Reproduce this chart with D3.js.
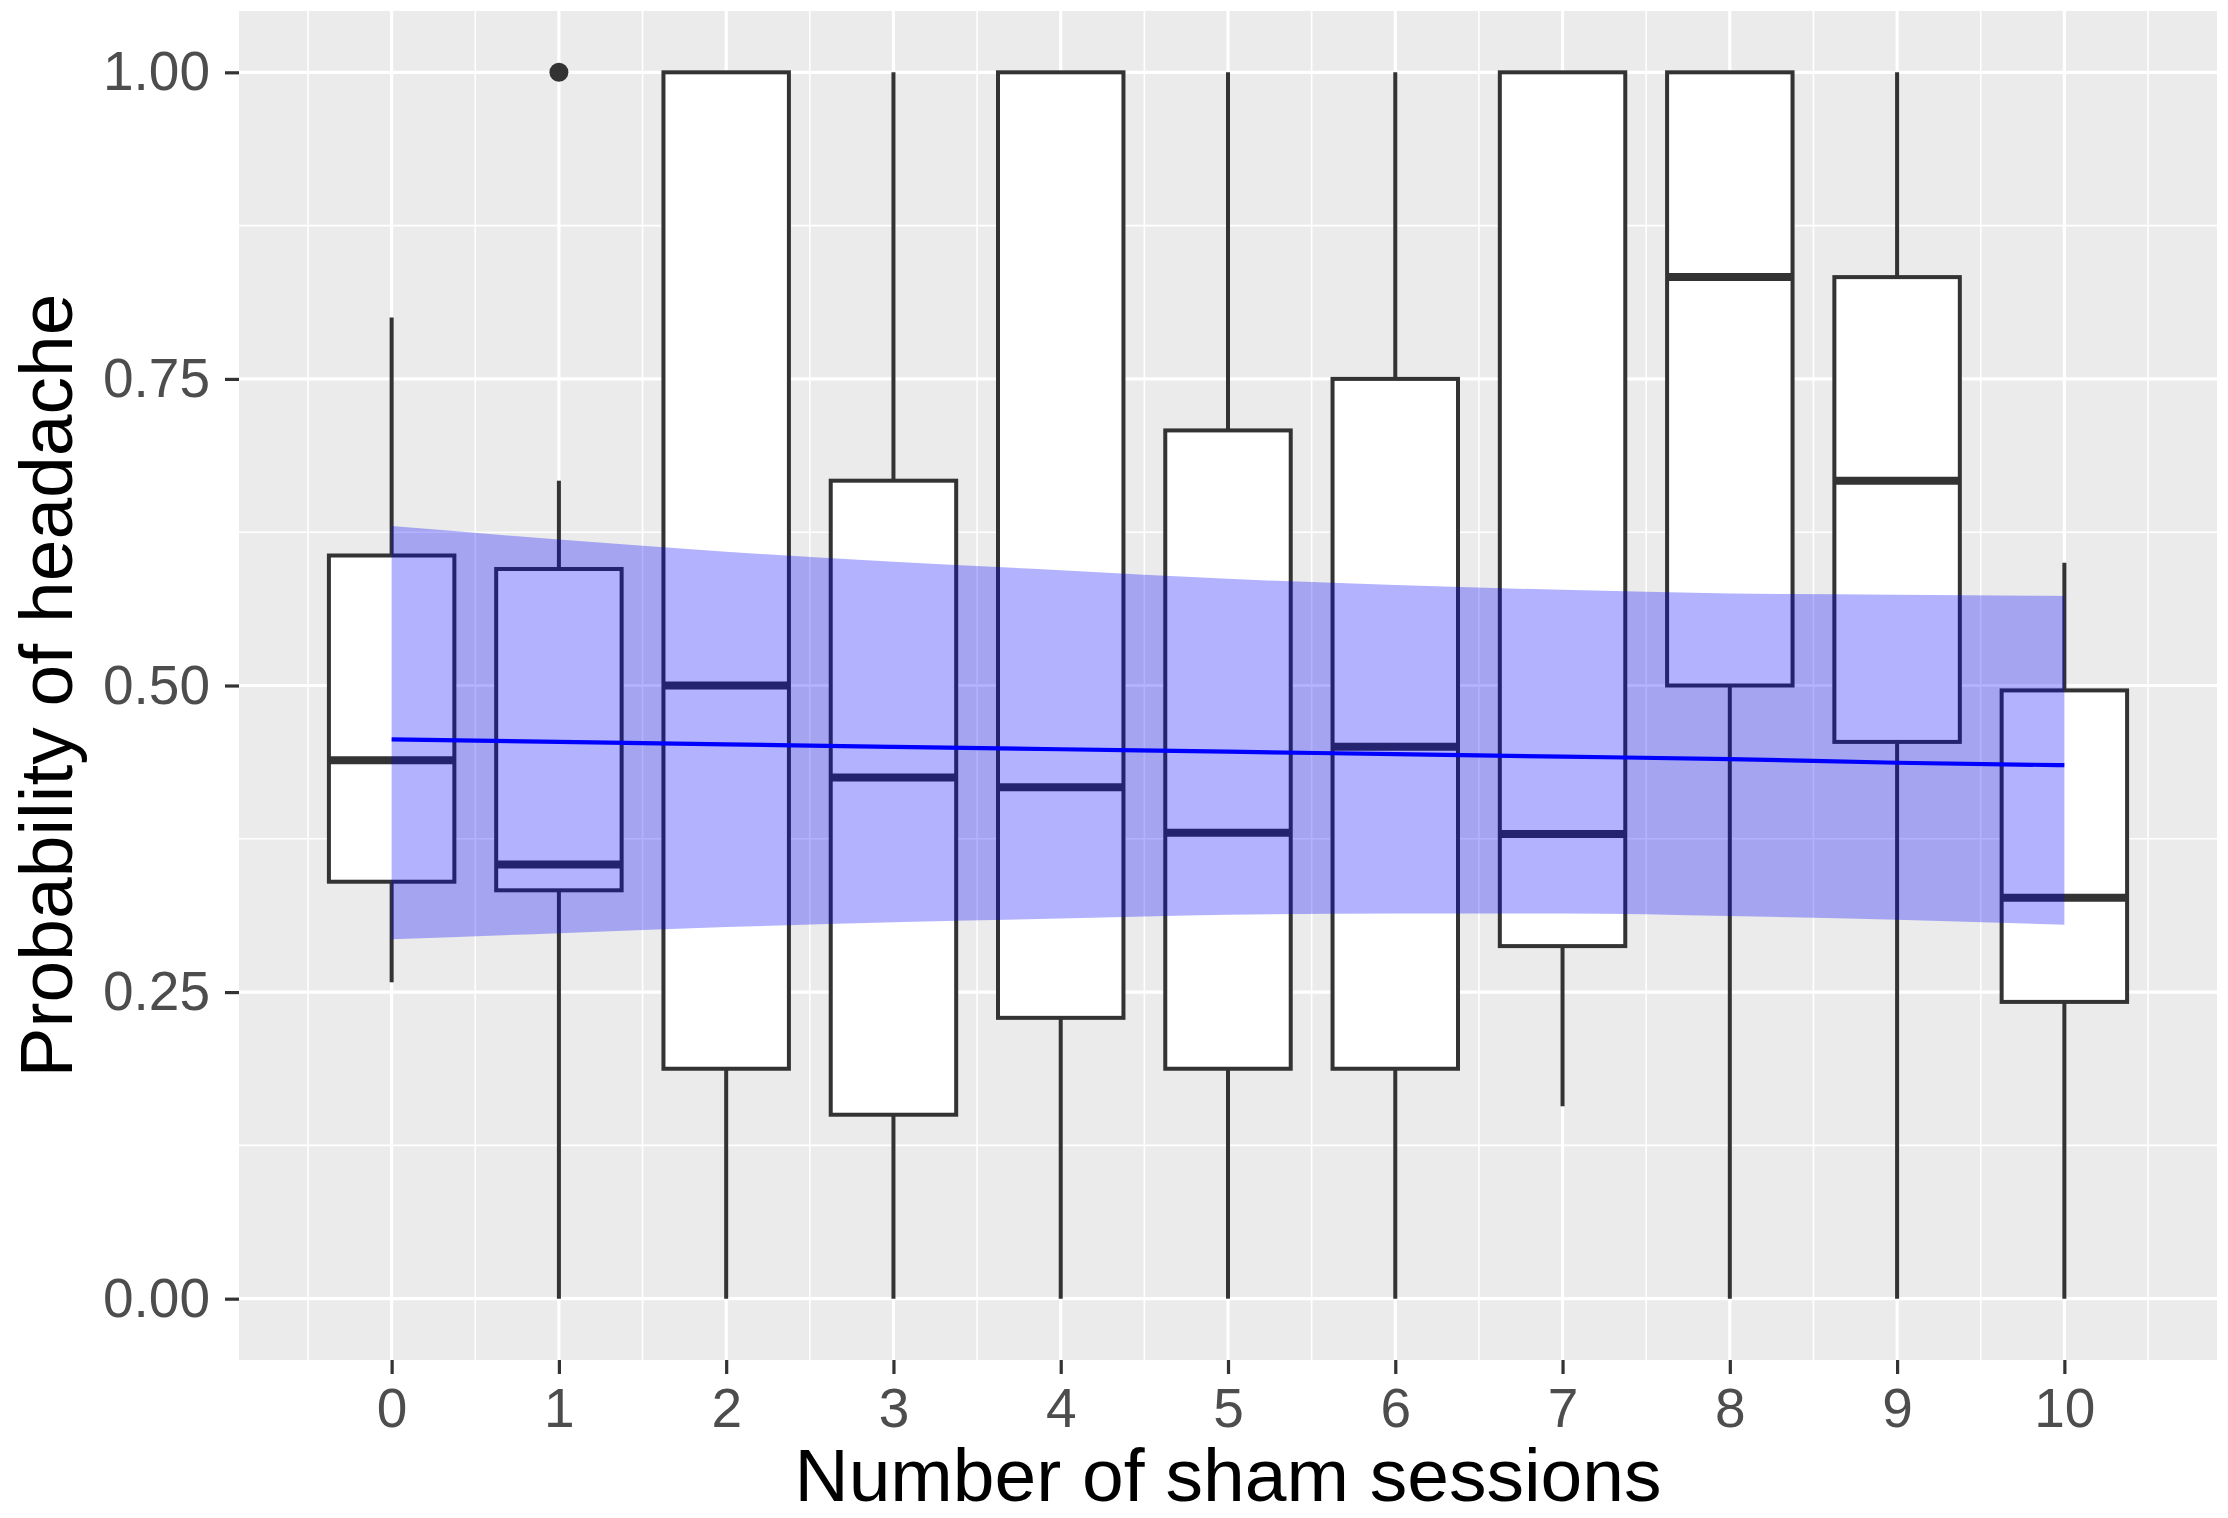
<!DOCTYPE html>
<html>
<head>
<meta charset="utf-8">
<script src="https://cdn.jsdelivr.net/npm/d3@7"></script>
<style>
  html, body { margin: 0; padding: 0; background: #fff; }
  text { font-family: "Liberation Sans", Arial, sans-serif; }
</style>
</head>
<body>
<div id="chart"></div>
<script>
// boxplot per number of sham sessions
const sessions    = [0, 1, 2, 3, 4, 5, 6, 7, 8, 9, 10];
const whiskerLow  = [0.258, 0, 0, 0, 0, 0, 0, 0.157, 0, 0, 0];
const q1          = [0.340, 0.333, 0.1875, 0.150, 0.229, 0.1875, 0.1875, 0.2875, 0.500, 0.454, 0.242];
const median      = [0.439, 0.354, 0.500, 0.425, 0.417, 0.380, 0.450, 0.379, 0.833, 0.667, 0.327];
const q3          = [0.606, 0.595, 1.000, 0.667, 1.000, 0.708, 0.750, 1.000, 1.000, 0.833, 0.496];
const whiskerHigh = [0.800, 0.667, 1, 1, 1, 1, 1, 1, 1, 1, 0.600];
const outlierSession = [1];
const outlierValue   = [1.0];

// fitted line + confidence band
const fitX     = [0, 1, 2, 3, 4, 5, 6, 7, 8, 9, 10];
const fitY     = [0.456, 0.454, 0.452, 0.450, 0.448, 0.446, 0.444, 0.442, 0.440, 0.437, 0.435];
const fitUpper = [0.630, 0.619, 0.609, 0.601, 0.594, 0.587, 0.582, 0.578, 0.575, 0.574, 0.573];
const fitLower = [0.293, 0.298, 0.303, 0.307, 0.310, 0.313, 0.314, 0.314, 0.312, 0.309, 0.305];

const yTicks = [0, 0.25, 0.5, 0.75, 1];
const yMinor = [0.125, 0.375, 0.625, 0.875];
const xMinor = [-0.5, 0.5, 1.5, 2.5, 3.5, 4.5, 5.5, 6.5, 7.5, 8.5, 9.5, 10.5];

const W = 2228, H = 1518;
const margin = { top: 11, right: 11, bottom: 158, left: 239 };
const boxWidth = 0.75;

const svg = d3.select("#chart").append("svg")
  .attr("width", W).attr("height", H);

const x = d3.scaleLinear()
  .domain([-0.9125, 10.9125])
  .range([margin.left, W - margin.right]);
const y = d3.scaleLinear()
  .domain([-0.05, 1.05])
  .range([H - margin.bottom, margin.top]);

// panel
svg.append("rect")
  .attr("x", x.range()[0]).attr("y", y.range()[1])
  .attr("width", x.range()[1] - x.range()[0])
  .attr("height", y.range()[0] - y.range()[1])
  .attr("fill", "#EBEBEB");

const grid = svg.append("g").attr("stroke", "#fff");
grid.selectAll(".ymin").data(yMinor).enter().append("line")
  .attr("x1", x.range()[0]).attr("x2", x.range()[1])
  .attr("y1", d => y(d)).attr("y2", d => y(d))
  .attr("stroke-width", 1.6);
grid.selectAll(".xmin").data(xMinor).enter().append("line")
  .attr("y1", y.range()[0]).attr("y2", y.range()[1])
  .attr("x1", d => x(d)).attr("x2", d => x(d))
  .attr("stroke-width", 1.6);
grid.selectAll(".ymaj").data(yTicks).enter().append("line")
  .attr("x1", x.range()[0]).attr("x2", x.range()[1])
  .attr("y1", d => y(d)).attr("y2", d => y(d))
  .attr("stroke-width", 3.2);
grid.selectAll(".xmaj").data(sessions).enter().append("line")
  .attr("y1", y.range()[0]).attr("y2", y.range()[1])
  .attr("x1", d => x(d)).attr("x2", d => x(d))
  .attr("stroke-width", 3.2);

// boxes
const boxes = sessions.map((s, i) => ({
  s, lo: whiskerLow[i], q1: q1[i], med: median[i], q3: q3[i], hi: whiskerHigh[i]
}));
const bw = x(boxWidth) - x(0);
const bg = svg.append("g").attr("stroke", "#333333").attr("stroke-width", 4);

bg.selectAll(".wlo").data(boxes).enter().append("line")
  .attr("x1", d => x(d.s)).attr("x2", d => x(d.s))
  .attr("y1", d => y(d.lo)).attr("y2", d => y(d.q1));
bg.selectAll(".whi").data(boxes).enter().append("line")
  .attr("x1", d => x(d.s)).attr("x2", d => x(d.s))
  .attr("y1", d => y(d.hi)).attr("y2", d => y(d.q3));
bg.selectAll(".box").data(boxes).enter().append("rect")
  .attr("x", d => x(d.s) - bw / 2)
  .attr("width", bw)
  .attr("y", d => y(d.q3))
  .attr("height", d => y(d.q1) - y(d.q3))
  .attr("fill", "#fff");
bg.selectAll(".med").data(boxes).enter().append("line")
  .attr("x1", d => x(d.s) - bw / 2).attr("x2", d => x(d.s) + bw / 2)
  .attr("y1", d => y(d.med)).attr("y2", d => y(d.med))
  .attr("stroke-width", 8);

svg.selectAll(".outlier").data(outlierSession).enter().append("circle")
  .attr("cx", d => x(d))
  .attr("cy", (d, i) => y(outlierValue[i]))
  .attr("r", 9.5)
  .attr("fill", "#333333");

// confidence band and fitted line
const fit = fitX.map((v, i) => ({ x: v, y: fitY[i], lo: fitLower[i], hi: fitUpper[i] }));
svg.append("path")
  .datum(fit)
  .attr("fill", "blue")
  .attr("fill-opacity", 0.3)
  .attr("d", d3.area().curve(d3.curveMonotoneX)
    .x(d => x(d.x)).y0(d => y(d.lo)).y1(d => y(d.hi)));
svg.append("path")
  .datum(fit)
  .attr("fill", "none")
  .attr("stroke", "#0000FF")
  .attr("stroke-width", 4.2)
  .attr("d", d3.line().curve(d3.curveMonotoneX).x(d => x(d.x)).y(d => y(d.y)));

// axes
const yAxis = svg.append("g")
  .attr("transform", `translate(${x.range()[0]},0)`)
  .call(d3.axisLeft(y).tickValues(yTicks).tickFormat(d3.format(".2f")).tickSize(14).tickPadding(15));
const xAxis = svg.append("g")
  .attr("transform", `translate(0,${y.range()[0]})`)
  .call(d3.axisBottom(x).tickValues(sessions).tickFormat(d3.format("d")).tickSize(14).tickPadding(14));

[yAxis, xAxis].forEach(g => {
  g.select(".domain").remove();
  g.selectAll(".tick line").attr("stroke", "#333333").attr("stroke-width", 3.2);
  g.selectAll(".tick text")
    .attr("fill", "#4D4D4D")
    .style("font-size", "55px")
    .style("font-family", '"Liberation Sans", Arial, sans-serif');
});

const cx = (x.range()[0] + x.range()[1]) / 2;
const cy = (y.range()[0] + y.range()[1]) / 2;

svg.append("text")
  .attr("x", cx).attr("y", 1501)
  .attr("text-anchor", "middle")
  .style("font-size", "75px")
  .attr("fill", "#000")
  .text("Number of sham sessions");

svg.append("text")
  .attr("transform", `translate(72,${cy}) rotate(-90)`)
  .attr("text-anchor", "middle")
  .style("font-size", "75px")
  .attr("fill", "#000")
  .text("Probability of headache");
</script>
</body>
</html>
